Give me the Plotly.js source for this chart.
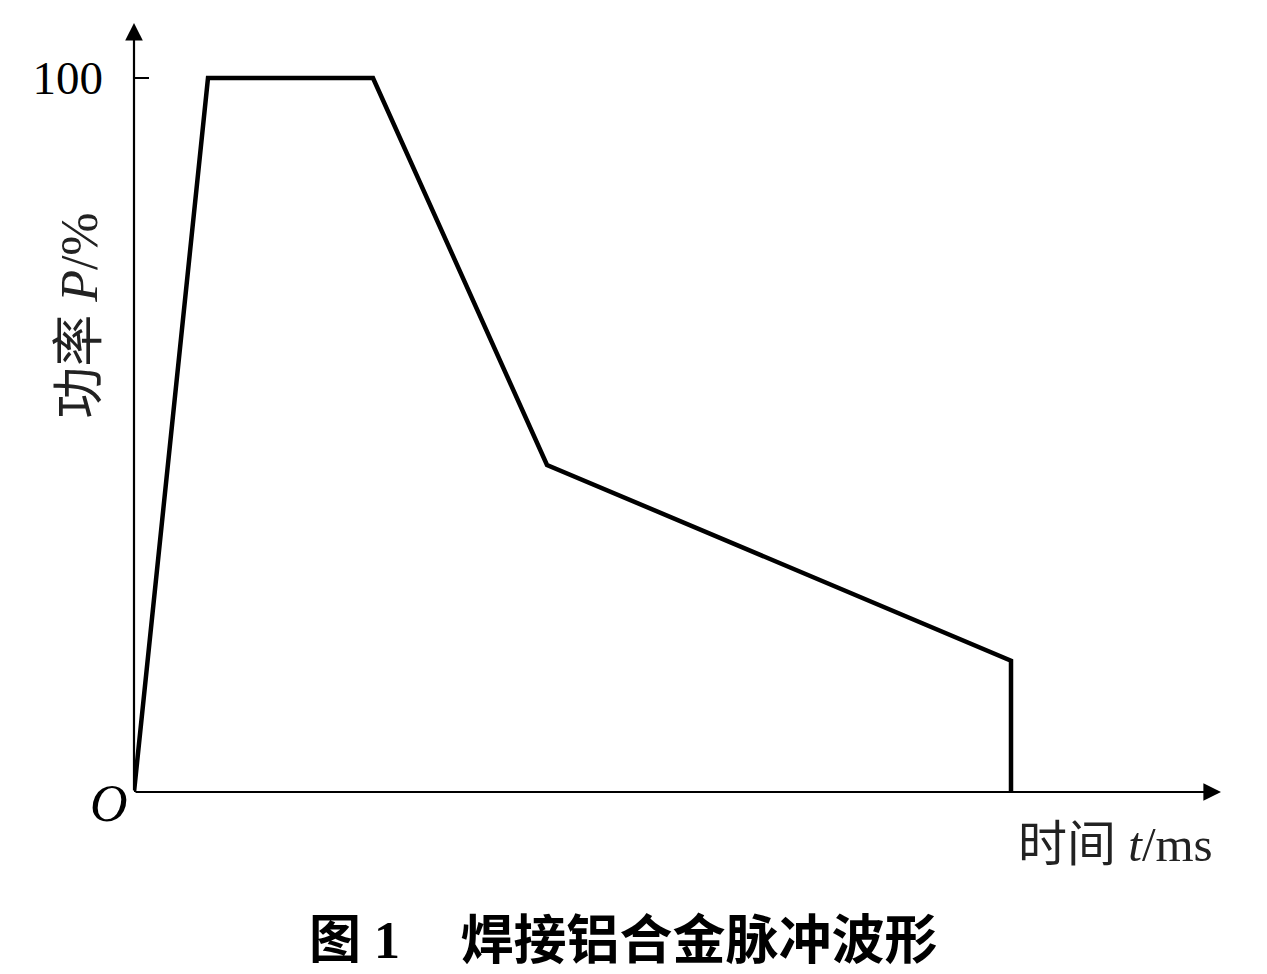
<!DOCTYPE html>
<html>
<head>
<meta charset="utf-8">
<script src="https://cdn.plot.ly/plotly-3.0.1.min.js"></script>
<style>html,body{margin:0;padding:0;background:#fff;}#chart{width:1267px;height:974px;}</style>
</head>
<body>
<div id="chart"></div>
<script>
// Pulse waveform (time in arbitrary units, power in %)
const timeValues = [0, 7.4, 23.9, 41.3, 87.7, 87.7];
const powerValues = [0, 100, 100, 45.8, 18.4, 0];
const yTickValues = [100];
const yTickLabels = ['100'];
const xAxisMax = 108.7;
const yAxisMax = 107.7;

const serif = 'Liberation Serif, "Times New Roman", "Noto Sans CJK SC", serif';

const trace = {
  x: timeValues,
  y: powerValues,
  type: 'scatter',
  mode: 'lines',
  line: {color: '#000', width: 4.5},
  hoverinfo: 'skip'
};

const layout = {
  width: 1267,
  height: 974,
  margin: {l: 134, r: 46, t: 23, b: 182},
  paper_bgcolor: '#fff',
  plot_bgcolor: '#fff',
  showlegend: false,
  title: {
    text: '<b>焊接铝合金脉冲波形</b>',
    font: {family: serif, size: 53, color: '#000'},
    x: 699 / 1267, xref: 'container', xanchor: 'center',
    y: 0.034, yref: 'container', yanchor: 'middle'
  },
  xaxis: {
    range: [0, xAxisMax],
    showgrid: false, zeroline: false, showline: false,
    showticklabels: false, ticks: ''
  },
  yaxis: {
    range: [0, yAxisMax],
    showgrid: false, zeroline: false, showline: false,
    tickmode: 'array', tickvals: yTickValues, ticktext: yTickLabels,
    ticks: 'inside', ticklen: 15, tickwidth: 2, tickcolor: '#000',
    ticklabelstandoff: 30,
    tickfont: {family: serif, size: 47, color: '#000'}
  },
  annotations: [
    // x axis with arrow
    {x: xAxisMax, y: 0, ax: 0, ay: 0, xref: 'x', yref: 'y', axref: 'x', ayref: 'y',
     text: '', showarrow: true, arrowhead: 2, arrowsize: 1.6, arrowwidth: 2.2, arrowcolor: '#000', standoff: 0},
    // y axis with arrow
    {x: 0, y: yAxisMax, ax: 0, ay: 0, xref: 'x', yref: 'y', axref: 'x', ayref: 'y',
     text: '', showarrow: true, arrowhead: 2, arrowsize: 1.6, arrowwidth: 2.2, arrowcolor: '#000', standoff: 0},
    // origin label
    {x: 0, y: 0, xref: 'x', yref: 'y', text: '<i>O</i>', showarrow: false,
     xanchor: 'right', yanchor: 'middle', xshift: -4, yshift: -11,
     font: {family: serif, size: 52, color: '#000'}},
    // y axis title
    {x: -0.05, y: 0.62, xref: 'paper', yref: 'paper', text: '功率 <i>P</i>/%', showarrow: false,
     textangle: -90, xanchor: 'center', yanchor: 'middle',
     font: {family: serif, size: 52, color: '#222'}},
    // x axis title
    {x: 0.903, y: -0.068, xref: 'paper', yref: 'paper', text: '时间 <i>t</i>/ms', showarrow: false,
     xanchor: 'center', yanchor: 'middle',
     font: {family: serif, size: 49, color: '#222'}},
    // figure number
    {x: (354 - 134) / 1087, y: -(940 - 792) / 769, xref: 'paper', yref: 'paper', text: '<b>图 1</b>',
     showarrow: false, xanchor: 'center', yanchor: 'middle',
     font: {family: serif, size: 52, color: '#000'}}
  ]
};

Plotly.newPlot('chart', [trace], layout, {displayModeBar: false, staticPlot: true});
</script>
</body>
</html>
